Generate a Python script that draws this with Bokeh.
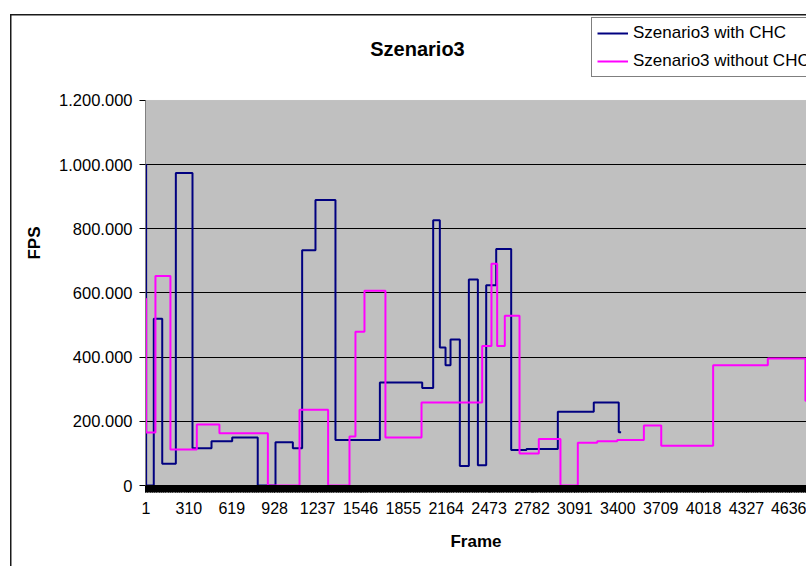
from bokeh.plotting import figure
from bokeh.models import Range1d, FixedTicker, Legend, LegendItem, Label, BoxAnnotation
from bokeh.embed import file_html
from bokeh.resources import INLINE

# ---- data (step changes: frame where a new FPS value starts) ----
blue_frames = [1, 2, 57, 118, 216, 336, 473, 622, 806, 934,
               1059, 1126, 1222, 1366, 1686, 1991, 2070, 2118, 2159, 2195,
               2262, 2327, 2392, 2452, 2524, 2632, 2742, 2968, 3227, 3407,
               3424]
blue_fps = [1000000, 0, 520000, 67500, 974000, 116000, 138000, 150000, 0, 135000,
            116000, 733000, 890000, 142000, 321000, 304000, 827000, 430000, 375000, 455000,
            61000, 642000, 63000, 624000, 737000, 111000, 114000, 230000, 259000, 166000,
            166000]

pink_frames = [1, 2, 69, 177, 367, 530, 879, 1107, 1313, 1467,
               1510, 1575, 1726, 1986, 2423, 2490, 2531, 2586, 2692, 2831,
               2987, 3112, 3252, 3396, 3588, 3713, 4087, 4481, 4752, 4800]
pink_fps = [582000, 165000, 653000, 112000, 190000, 163000, 0, 236000, 0, 153000,
            479000, 607000, 150000, 259000, 435000, 691000, 435000, 529000, 100000, 145000,
            0, 133000, 138000, 142000, 187000, 124000, 375000, 396000, 264000, 264000]

x_ticks = [1, 310, 619, 928, 1237, 1546, 1855, 2164, 2473, 2782, 3091, 3400, 3709, 4018, 4327, 4636]
x_labels = [str(t) for t in x_ticks]
y_ticks = [0, 200000, 400000, 600000, 800000, 1000000, 1200000]
y_labels = ["0", "200.000", "400.000", "600.000", "800.000", "1.000.000", "1.200.000"]

series_names = ["Szenario3 with CHC", "Szenario3 without CHC"]
title_text = "Szenario3"

FONT = "Liberation Sans"

# frame spans from the canvas top down to the x axis; the grey plot area is drawn
# as a box between 0 and the top y tick so that title and legend sit inside the frame
p = figure(width=806, height=566, output_backend="svg", toolbar_location=None,
           title_location=None,
           x_range=Range1d(-2.6, 4759.6), y_range=Range1d(0, 1511688),
           min_border_left=145, min_border_right=0, min_border_top=0, min_border_bottom=81,
           background_fill_alpha=0, border_fill_alpha=0,
           outline_line_color=None)

# outer chart border (left and top edges) drawn by the page element itself
p.styles = {"box-shadow": "inset 10px 14px 0 0 #ffffff, inset 11.5px 15.5px 0 0 #1a1a1a"}

# grey plot area
p.add_layout(BoxAnnotation(bottom=y_ticks[0], top=y_ticks[-1], fill_color="#C0C0C0", fill_alpha=1,
                           line_color="#808080", line_width=1, level="image"))

r_blue = p.step(blue_frames, blue_fps, mode="after", line_color="#000080", line_width=2)
r_pink = p.step(pink_frames, pink_fps, mode="after", line_color="#FF00FF", line_width=2)

# y axis
p.yaxis.ticker = FixedTicker(ticks=y_ticks)
p.yaxis.bounds = (y_ticks[0], y_ticks[-1])
p.yaxis.major_label_overrides = dict(zip(y_ticks, y_labels))
p.yaxis.major_tick_out = 6
p.yaxis.major_tick_in = 0
p.yaxis.minor_tick_out = 0
p.yaxis.minor_tick_in = 0
p.yaxis.major_label_standoff = 7
p.yaxis.axis_line_color = "#808080"
p.yaxis.major_tick_line_color = "#000000"
p.yaxis.major_label_text_font = FONT
p.yaxis.major_label_text_font_size = "16.5px"
p.yaxis.major_label_text_color = "#000000"
p.yaxis.axis_label = "FPS"
p.yaxis.axis_label_text_font = FONT
p.yaxis.axis_label_text_font_style = "bold"
p.yaxis.axis_label_text_font_size = "17px"
p.yaxis.axis_label_text_color = "#000000"
p.yaxis.axis_label_standoff = 12

# x axis (dense per-frame ticks form the black band)
p.xaxis.ticker = FixedTicker(ticks=x_ticks, minor_ticks=list(range(0, 4760, 5)))
p.xaxis.major_label_overrides = dict(zip(x_ticks, x_labels))
p.xaxis.major_tick_out = 7
p.xaxis.major_tick_in = 0
p.xaxis.minor_tick_out = 7
p.xaxis.minor_tick_in = 0
p.xaxis.minor_tick_line_color = "#000000"
p.xaxis.major_tick_line_color = "#000000"
p.xaxis.axis_line_color = "#000000"
p.xaxis.major_label_standoff = 9
p.xaxis.major_label_text_font = FONT
p.xaxis.major_label_text_font_size = "16px"
p.xaxis.major_label_text_color = "#000000"
p.xaxis.axis_label = "Frame"
p.xaxis.axis_label_text_font = FONT
p.xaxis.axis_label_text_font_style = "bold"
p.xaxis.axis_label_text_font_size = "17px"
p.xaxis.axis_label_text_color = "#000000"
p.xaxis.axis_label_standoff = 15

p.xgrid.visible = False
p.ygrid.ticker = FixedTicker(ticks=y_ticks[1:-1])
p.ygrid.grid_line_color = "#000000"
p.ygrid.grid_line_width = 1

# title
p.add_layout(Label(x=417, y=48, x_units="canvas", y_units="canvas", text=title_text,
                   text_align="center", text_baseline="alphabetic",
                   text_font=FONT, text_font_style="bold", text_font_size="20px",
                   text_color="#000000"))

legend = Legend(items=[LegendItem(label=series_names[0], renderers=[r_blue]),
                       LegendItem(label=series_names[1], renderers=[r_pink])],
                location=(446, 408), orientation="vertical",
                label_text_font=FONT, label_text_font_size="17px", label_text_color="#000000",
                glyph_width=31, glyph_height=20, label_height=20, label_standoff=5,
                spacing=8, padding=5, margin=0,
                border_line_color="#000000", border_line_width=1,
                background_fill_color="white", background_fill_alpha=1)
p.add_layout(legend, "center")

open("out.html", "w").write(file_html(p, INLINE))
